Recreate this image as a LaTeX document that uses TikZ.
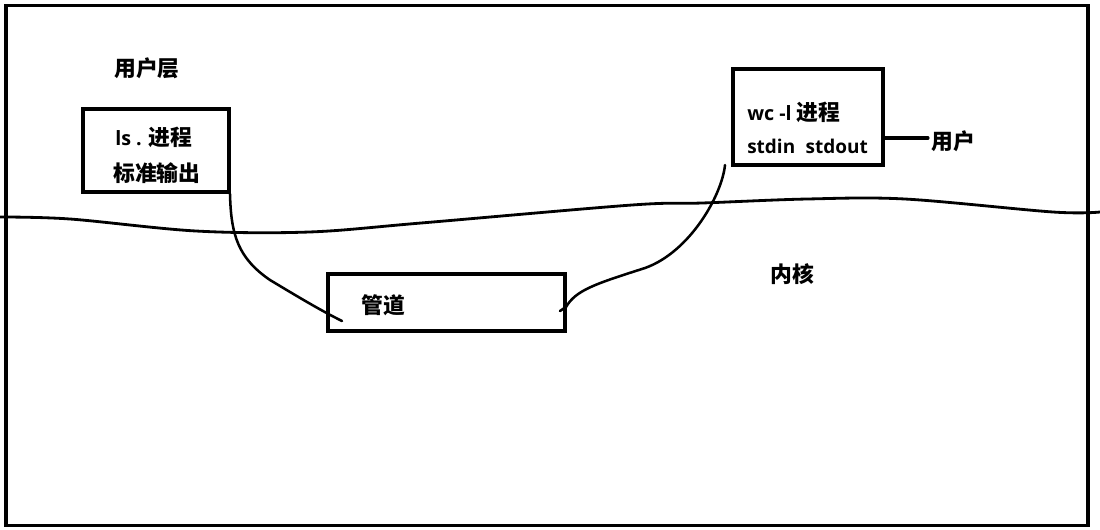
\documentclass[tikz,border=0pt]{standalone}
\usepackage{fontspec}
\newfontfamily\cjk{Noto Sans CJK SC}
\newfontfamily\lat{Open Sans}
\usepackage{tikz}
\usetikzlibrary{positioning,calc}

\begin{document}
\begin{tikzpicture}[
    x=0.025cm, y=-0.025cm,
    font=\cjk\bfseries\fontsize{15.5}{18}\selectfont,
    box/.style={draw=black, line width=2.8pt, fill=none, inner sep=0pt},
    label/.style={anchor=west, inner sep=0pt},
    wire/.style={draw=black, line width=1.8pt, line cap=round, line join=round}
]
\useasboundingbox (0,0) rectangle (1100,529);
\draw[line width=2.8pt] (6,5.5) rectangle (1088,525.5);

% user/kernel boundary
\draw[line width=2pt] plot[smooth, tension=0.55] coordinates
    {(0,217) (70,219) (196,231) (309,232) (421,223) (632,205) (702,203)
     (807,199) (905,199) (1053,212) (1100,212)};

\node[label] (userLayer) at (114,68) {用户层};
\node[label] (kernel) at (770,274) {内核};

\node[box, minimum width=3.65cm, minimum height=2.075cm] (ls) at (156,150.5) {};
\node[label] (lsTitle) at (115,137) {{\lat\fontsize{14}{17}\selectfont ls .} 进程};
\node[label] (lsOut) at (113,173) {标准输出};

\node[box, minimum width=3.75cm, minimum height=2.4cm] (wc) at (808,117) {};
\node[label] (wcTitle) at (747,112) {{\lat\fontsize{14}{17}\selectfont wc -l} 进程};
\node[label] (wcIO) at (747,146) {\lat\fontsize{13.5}{17}\selectfont stdin\hspace{0.55em}stdout};

\node[box, minimum width=5.925cm, minimum height=1.425cm] (pipe) at (446.5,302.5) {};
\node[label] (pipeName) at (361,305) {管道};

\node[label] (user) at (931,141) {用户};
\draw[wire, line width=2.2pt] (wc.east |- 0,138) -- (928,138);

\coordinate (pipeIn) at (342,321);
\coordinate (pipeOut) at (560,311);
\coordinate (wcIn) at (725,165);
\draw[wire] ([xshift=-0.7pt]ls.south east) .. controls (231,235) and (238,258) .. (270,280)
    .. controls (300,298) and (320,310) .. (pipeIn);
\draw[wire] (pipeOut) -- (566,307) .. controls (576,290) and (595,284) .. (645,268)
    .. controls (690,252) and (722,195) .. (wcIn);

\end{tikzpicture}
\end{document}
